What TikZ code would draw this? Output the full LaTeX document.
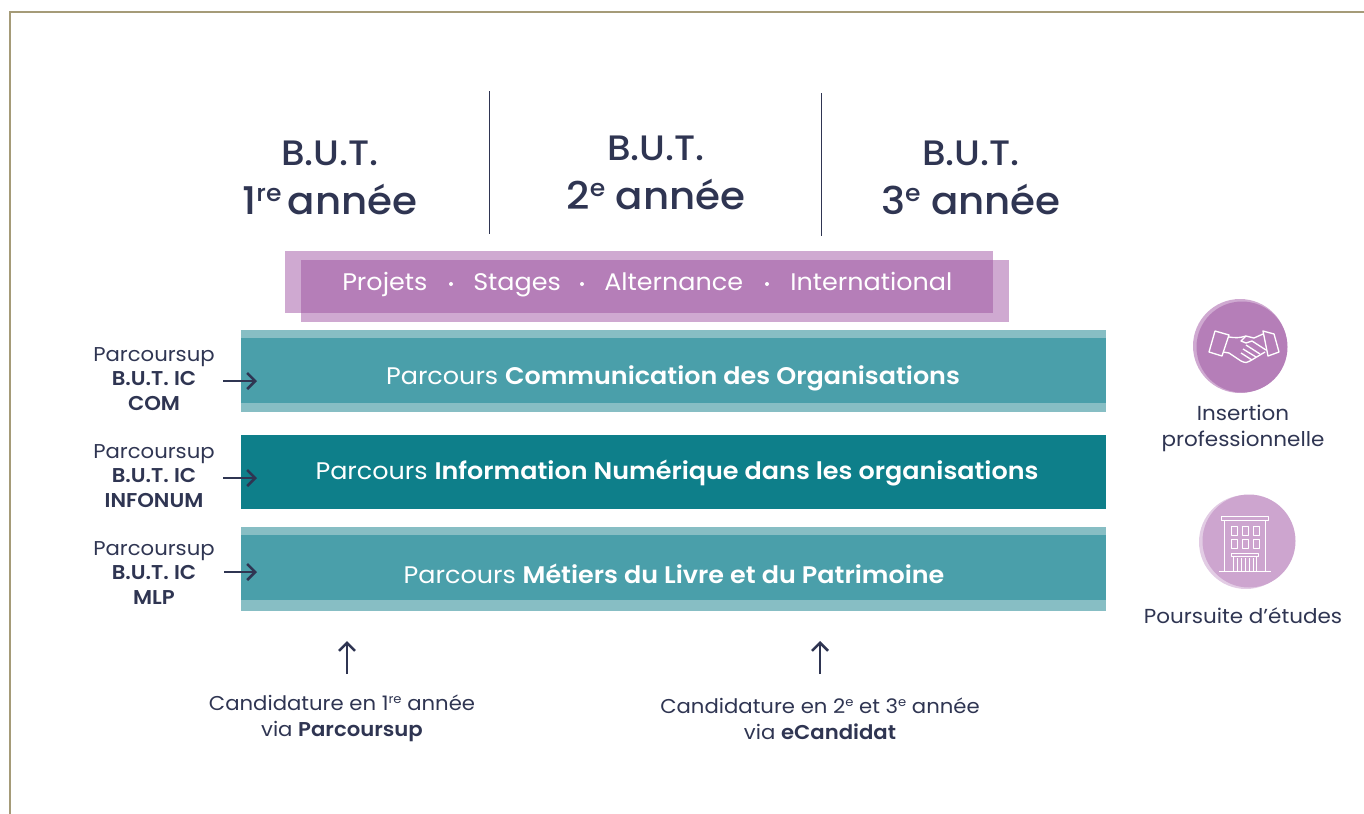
\documentclass[tikz,border=0pt]{standalone}
\usepackage{fontspec}
\setmainfont{Poppins}
\newfontfamily\pmed[FakeStretch=1.06,BoldFont={Poppins SemiBold}]{Poppins Medium}
\newfontfamily\preg[FakeStretch=1.06,BoldFont={Poppins SemiBold}]{Poppins}
\usetikzlibrary{arrows.meta}
\definecolor{ink}{HTML}{2F3552}
\definecolor{frame}{HTML}{A59B78}
\definecolor{plum}{HTML}{B57EB8}
\definecolor{plumlt}{HTML}{CFA9D1}
\definecolor{plumpale}{HTML}{E2CCE4}
\definecolor{teal}{HTML}{4A9FAA}
\definecolor{teallt}{HTML}{87BEC4}
\definecolor{tealdk}{HTML}{0E7F8A}
\newcommand{\sups}[1]{\raisebox{0.62ex}{\scalebox{0.62}{#1}}}
\newcommand{\bigyear}{\fontsize{28.6}{39}\selectfont}
\tikzset{
  yeartext/.style={text=ink,font=\pmed\fontsize{26.5}{39}\selectfont,align=center,inner sep=0pt},
  bartext/.style={text=white,font=\preg\fontsize{18}{21}\selectfont,inner sep=0pt},
  bandtext/.style={text=white,font=\preg\fontsize{18}{20}\selectfont,inner sep=0pt,anchor=base west},
  sidetext/.style={text=ink,font=\preg\fontsize{15}{18.3}\selectfont,align=center,inner sep=0pt},
  lowtext/.style={text=ink,font=\preg\fontsize{15}{19.5}\selectfont,align=center,inner sep=0pt},
  outtext/.style={text=ink,font=\preg\fontsize{15.2}{19}\selectfont,align=center,inner sep=0pt},
  arr/.style={draw=ink,line width=1.9pt,-{Straight Barb[length=6pt,width=12pt,line width=1.9pt]}},
  sep/.style={draw=ink,line width=0.75pt},
  icon/.style={draw=white,line width=1pt,line join=round}
}
\begin{document}
\begin{tikzpicture}[x=0.75pt,y=-0.75pt]
\useasboundingbox (0,0) rectangle (1364,814);
% frame
\draw[frame,line width=1.5pt] (10,814) -- (10,12) -- (1364,12);
% column separators
\coordinate (s1a) at (489,91); \coordinate (s1b) at (489,234);
\coordinate (s2a) at (821,93); \coordinate (s2b) at (821,236);
\draw[sep] (s1a) -- (s1b);
\draw[sep] (s2a) -- (s2b);
% headers
\node[yeartext] (y1) at (330,178) {B.U.T.\\[-2.5pt]{\bigyear 1\sups{re}\,année}};
\node[yeartext] (y2) at (656,173) {B.U.T.\\[-2.5pt]{\bigyear 2\sups{e} année}};
\node[yeartext] (y3) at (971,178) {B.U.T.\\[-2.5pt]{\bigyear 3\sups{e} année}};
% purple band
\fill[plumlt] (285,251) rectangle (993,313);
\fill[plumlt] (301,260) rectangle (1009,322);
\fill[plum] (301,260) rectangle (993,313);
\node[bandtext] (p1) at (342,290) {Projets};
\node[bandtext] (p2) at (473,290) {Stages};
\node[bandtext] (p3) at (604,290) {Alternance};
\node[bandtext] (p4) at (790,290) {International};
\fill[white] (451,284) circle (2);
\fill[white] (582,284) circle (2);
\fill[white] (767,284) circle (2);
% bars
\fill[teallt] (241,330) rectangle (1106,412);
\fill[teal] (241,338) rectangle (1106,403);
\coordinate (b1) at (257,381);
\fill[tealdk] (241,435) rectangle (1106,509);
\coordinate (b2) at (257,478);
\fill[teallt] (241,527) rectangle (1106,611);
\fill[teal] (241,535) rectangle (1106,600);
\coordinate (b3) at (257,572);
\coordinate (bb1) at (347,641);
\coordinate (bb2) at (820,641);
\node[bartext] (t1) at (673,378) {Parcours \textbf{Communication des Organisations}};
\node[bartext] (t2) at (677,473) {Parcours \textbf{Information Numérique dans les organisations}};
\node[bartext] (t3) at (674,574) {Parcours \textbf{Métiers du Livre et du Patrimoine}};
% left labels
\node[sidetext] (l1) at (154,379) {Parcoursup\\\textbf{B.U.T. IC}\\\textbf{COM}};
\node[sidetext] (l2) at (154,476) {Parcoursup\\\textbf{B.U.T. IC}\\\textbf{INFONUM}};
\node[sidetext] (l3) at (154,573) {Parcoursup\\\textbf{B.U.T. IC}\\\textbf{MLP}};
\coordinate (a1) at (223,381);
\coordinate (a2) at (223,478);
\coordinate (a3) at (224,572);
\draw[arr] (a1) -- (b1);
\draw[arr] (a2) -- (b2);
\draw[arr] (a3) -- (b3);
% bottom
\node[lowtext] (c1) at (342,718.5) {Candidature en 1\sups{re} année\\via \textbf{Parcoursup}};
\node[lowtext] (c2) at (820,719) {Candidature en 2\sups{e} et 3\sups{e} année\\via \textbf{eCandidat}};
\coordinate (u1) at (347,674);
\coordinate (u2) at (820,674);
\draw[arr] (u1) -- (bb1);
\draw[arr] (u2) -- (bb2);
% handshake icon
\fill[plumlt] (1240,346) circle (47);
\fill[plum] (1242,347) circle (45.5);
\begin{scope}[icon]
  \draw (1215,331) -- (1229,335) -- (1222,356) -- (1209,352) -- cycle;
  \draw (1263,331) -- (1274,334) -- (1279,352) -- (1268,356) -- cycle;
  \draw (1229,337) .. controls (1235,338) and (1240,338) .. (1246,336) -- (1254,338) -- (1263,334);
  \draw (1223,352) -- (1229,353) -- (1241,361) .. controls (1245,363) and (1248,363) .. (1250,361) -- (1265,352);
  \draw (1246,336) -- (1241,341) -- (1246,343) -- (1252,341) -- (1266,350);
  \draw (1246,345) -- (1260,354);
  \draw (1243,349) -- (1256,357);
  \draw (1241,353) -- (1252,360);
\end{scope}
\node[outtext] (o1) at (1243,428.5) {Insertion\\professionnelle};
% building icon
\fill[plumpale] (1246,542) circle (47);
\fill[plumlt!92!plum] (1249,541) circle (46.5);
\begin{scope}[icon,line width=0.7pt]
  \draw (1221,516) rectangle (1268,520);
  \draw (1224,520) -- (1224,571);
  \draw (1265,520) -- (1265,571);
  \draw (1219,571) -- (1271,571);
  \draw (1231,526) rectangle (1237,535);
  \draw (1242,526) rectangle (1248,535);
  \draw (1253,526) rectangle (1259,535);
  \draw (1231,539) rectangle (1237,548);
  \draw (1242,539) rectangle (1248,548);
  \draw (1253,539) rectangle (1259,548);
  \draw (1231,553) rectangle (1258,556);
  \draw (1233,556) -- (1233,571);
  \draw (1256,556) -- (1256,571);
  \draw (1237,558) -- (1237,571);
  \draw (1241,558) -- (1241,571);
  \draw (1245,558) -- (1245,571);
  \draw (1249,558) -- (1249,571);
  \draw (1253,558) -- (1253,571);
\end{scope}
\node[outtext] (o2) at (1243,616) {Poursuite d’études};
\end{tikzpicture}
\end{document}
